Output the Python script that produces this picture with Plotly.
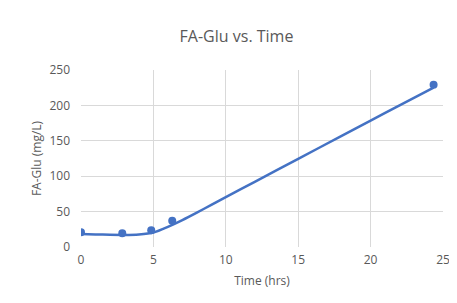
import plotly.graph_objects as go

# measured data points
time_hrs = [0, 2.85, 4.85, 6.3, 24.35]
fa_glu = [21, 19.5, 23.5, 37, 229]

# trendline
trend_x = [0, 1, 2, 3, 4, 5, 6, 7, 8, 9, 10, 12, 15, 18, 20, 22, 24.35]
trend_y = [18.5, 17.8, 17.2, 17.0, 17.8, 20.5, 28.5, 38, 48.5, 59.5, 70.5, 92, 124.5, 157, 178.5, 200, 225]

x_ticks = [0, 5, 10, 15, 20, 25]
y_ticks = [0, 50, 100, 150, 200, 250]

blue = "#4472C4"
grid = "#d9d9d9"
txt = "#595959"
font = "Open Sans, Liberation Sans, sans-serif"

fig = go.Figure()
fig.add_trace(go.Scatter(x=trend_x, y=trend_y, mode="lines",
                         line=dict(color=blue, width=2.5, shape="spline", smoothing=0.6),
                         hoverinfo="skip", showlegend=False))
fig.add_trace(go.Scatter(x=time_hrs, y=fa_glu, mode="markers",
                         marker=dict(color=blue, size=8), showlegend=False))

fig.update_layout(
    width=457, height=303,
    margin=dict(l=73, r=22, t=62, b=64, autoexpand=False),
    paper_bgcolor="white", plot_bgcolor="white",
    title=dict(text="FA-Glu vs. Time", x=0.5, xanchor="center", y=0.905, yanchor="middle",
               font=dict(family=font, size=16, color=txt)),
    font=dict(family=font, color=txt),
    xaxis=dict(range=[0, 25], tickvals=x_ticks, showgrid=True, gridcolor=grid, gridwidth=1,
               zeroline=False, showline=False, ticks="", tickfont=dict(size=12, color=txt),
               ticklabelstandoff=4,
               title=dict(text="Time (hrs)", font=dict(size=12, color=txt), standoff=9),
               fixedrange=True),
    yaxis=dict(range=[0, 250], tickvals=y_ticks, showgrid=True, gridcolor=grid, gridwidth=1,
               zeroline=False, showline=False, ticks="", tickfont=dict(size=12, color=txt),
               ticklabelstandoff=10,
               title=dict(text="FA-Glu (mg/L)", font=dict(size=12, color=txt), standoff=5),
               fixedrange=True),
)
fig.write_html("out.html")
